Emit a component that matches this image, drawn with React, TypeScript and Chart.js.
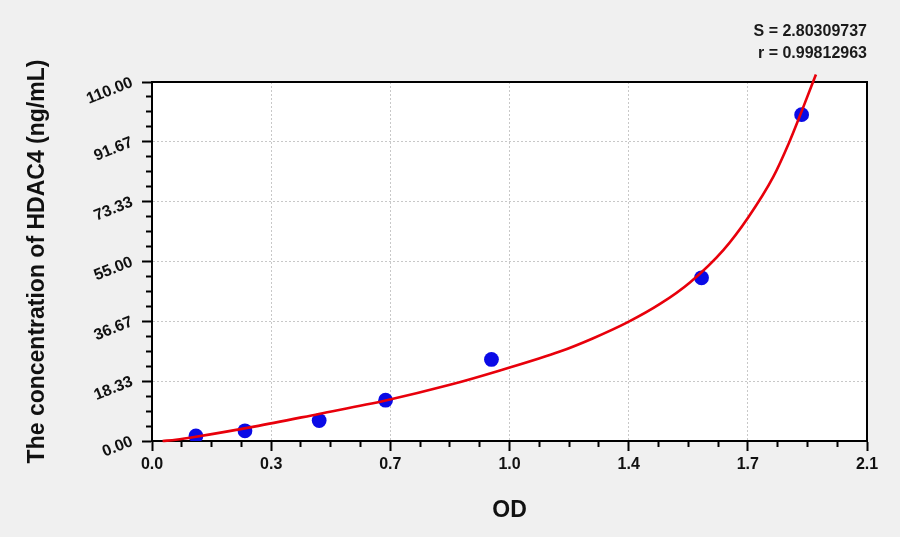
import React, { useEffect, useRef } from "react";
import { Chart, registerables } from "chart.js";

Chart.register(...registerables);

// Standard points (OD vs concentration)
const standardOD = [0.129, 0.273, 0.491, 0.686, 0.997, 1.614, 1.908];
const standardConc = [1.56, 3.13, 6.25, 12.5, 25, 50, 100];

// Fitted curve
const fitOD = [0.031, 0.07, 0.129, 0.3, 0.49, 0.686, 0.875, 1.022, 1.198, 1.296, 1.399, 1.492, 1.58, 1.678, 1.751, 1.825, 1.871, 1.908, 1.95];
const fitConc = [0, 0.4, 1.3, 4.4, 8.3, 12.4, 17.2, 21.6, 27.4, 31.5, 36.5, 42.0, 48.6, 58.5, 68.5, 81.0, 91.4, 101.0, 112.3];

// Axis tick labels
const xTickLabels = ["0.0", "0.3", "0.7", "1.0", "1.4", "1.7", "2.1"];
const yTickLabels = ["0.00", "18.33", "36.67", "55.00", "73.33", "91.67", "110.00"];
const xMax = 2.1;
const yMax = 110;
const minorPerMajor = 4;

const fitStats = ["S = 2.80309737", "r = 0.99812963"];
const xTitle = "OD";
const yTitle = "The concentration of HDAC4 (ng/mL)";

const FONT = "'Liberation Sans', Arial, Helvetica, sans-serif";

const makeTicks = (max: number, nLabels: number) => {
  const n = (nLabels - 1) * minorPerMajor;
  return Array.from({ length: n + 1 }, (_, i) => ({ value: (max * i) / n }));
};

const framePlugin = {
  id: "frame",
  beforeDraw(chart: any) {
    const { ctx, width, height, chartArea: a } = chart;
    ctx.save();
    ctx.fillStyle = "#f0f0f0";
    ctx.fillRect(0, 0, width, height);
    ctx.fillStyle = "#ffffff";
    ctx.fillRect(a.left, a.top, a.right - a.left, a.bottom - a.top);
    ctx.restore();
  },
  beforeDatasetsDraw(chart: any) {
    const { ctx, chartArea: a } = chart;
    ctx.save();
    ctx.strokeStyle = "#000";
    ctx.lineWidth = 2;
    ctx.strokeRect(a.left, a.top, a.right - a.left, a.bottom - a.top);
    ctx.restore();
  },
  afterDraw(chart: any) {
    const { ctx, chartArea: a } = chart;
    ctx.save();
    ctx.font = `bold 16px ${FONT}`;
    ctx.fillStyle = "#1a1a1a";
    ctx.textAlign = "right";
    ctx.textBaseline = "alphabetic";
    ctx.fillText(fitStats[0], a.right, a.top - 46);
    ctx.fillText(fitStats[1], a.right, a.top - 24.5);
    ctx.restore();
  },
};

export default function App() {
  const ref = useRef<HTMLCanvasElement | null>(null);

  useEffect(() => {
    if (!ref.current) return;
    const isMajor = (ctx: any) => ctx.index % minorPerMajor === 0;
    const chart = new Chart(ref.current, {
      type: "scatter",
      data: {
        datasets: [
          {
            label: "fit",
            data: fitOD.map((x, i) => ({ x, y: fitConc[i] })),
            showLine: true,
            borderColor: "#e8000b",
            borderWidth: 2.6,
            pointRadius: 0,
            cubicInterpolationMode: "monotone",
            clip: false as any,
            order: 0,
          },
          {
            label: "standards",
            data: standardOD.map((x, i) => ({ x, y: standardConc[i] })),
            backgroundColor: "#0a0ae6",
            borderWidth: 0,
            pointRadius: 7.4,
            order: 1,
          },
        ],
      },
      options: {
        responsive: false,
        animation: false,
        devicePixelRatio: 1,
        layout: { padding: { left: 0, right: 33, top: 82, bottom: 0 } },
        plugins: { legend: { display: false }, tooltip: { enabled: false } },
        scales: {
          x: {
            type: "linear",
            min: 0,
            max: xMax,
            afterBuildTicks: (s: any) => {
              s.ticks = makeTicks(xMax, xTickLabels.length);
            },
            afterFit: (s: any) => {
              s.height = 96;
            },
            ticks: {
              autoSkip: false,
              minRotation: 0,
              maxRotation: 0,
              padding: 4,
              color: "#111",
              font: { family: FONT, size: 16, weight: "bold" },
              callback: (_v: any, i: number) => (i % minorPerMajor === 0 ? xTickLabels[i / minorPerMajor] : ""),
            },
            grid: {
              color: (c: any) => (isMajor(c) ? "#c8c8c8" : "rgba(0,0,0,0)"),
              lineWidth: 1,
              tickLength: 10,
              tickWidth: 2,
              tickColor: "#000",
              tickBorderDash: (c: any) => (isMajor(c) ? [] : [5, 10]),
            } as any,
            border: { display: true, color: "#000", width: 2, dash: [2, 2] },
            title: {
              display: true,
              text: xTitle,
              color: "#111",
              font: { family: FONT, size: 23, weight: "bold" },
              padding: { top: 0, bottom: 13 },
            },
          },
          y: {
            type: "linear",
            min: 0,
            max: yMax,
            afterBuildTicks: (s: any) => {
              s.ticks = makeTicks(yMax, yTickLabels.length);
            },
            afterFit: (s: any) => {
              s.width = 152;
            },
            ticks: {
              autoSkip: false,
              minRotation: 22,
              maxRotation: 22,
              padding: 10,
              color: "#111",
              font: { family: FONT, size: 16, weight: "bold" },
              callback: (_v: any, i: number) => (i % minorPerMajor === 0 ? yTickLabels[i / minorPerMajor] : ""),
            },
            grid: {
              color: (c: any) => (isMajor(c) ? "#c8c8c8" : "rgba(0,0,0,0)"),
              lineWidth: 1,
              tickLength: 10,
              tickWidth: 2,
              tickColor: "#000",
              tickBorderDash: (c: any) => (isMajor(c) ? [] : [5, 4]),
              tickBorderDashOffset: (c: any) => (isMajor(c) ? 0 : 5),
            } as any,
            border: { display: true, color: "#000", width: 2, dash: [2, 2] },
            title: {
              display: true,
              text: yTitle,
              color: "#111",
              font: { family: FONT, size: 23, weight: "bold" },
              padding: { top: 24, bottom: 0 },
            },
          },
        },
      },
      plugins: [framePlugin],
    } as any);
    return () => chart.destroy();
  }, []);

  return (
    <div style={{ position: "absolute", left: 0, top: 0, width: 900, height: 537, background: "#f0f0f0" }}>
      <canvas ref={ref} width={900} height={537} style={{ display: "block" }} />
    </div>
  );
}
